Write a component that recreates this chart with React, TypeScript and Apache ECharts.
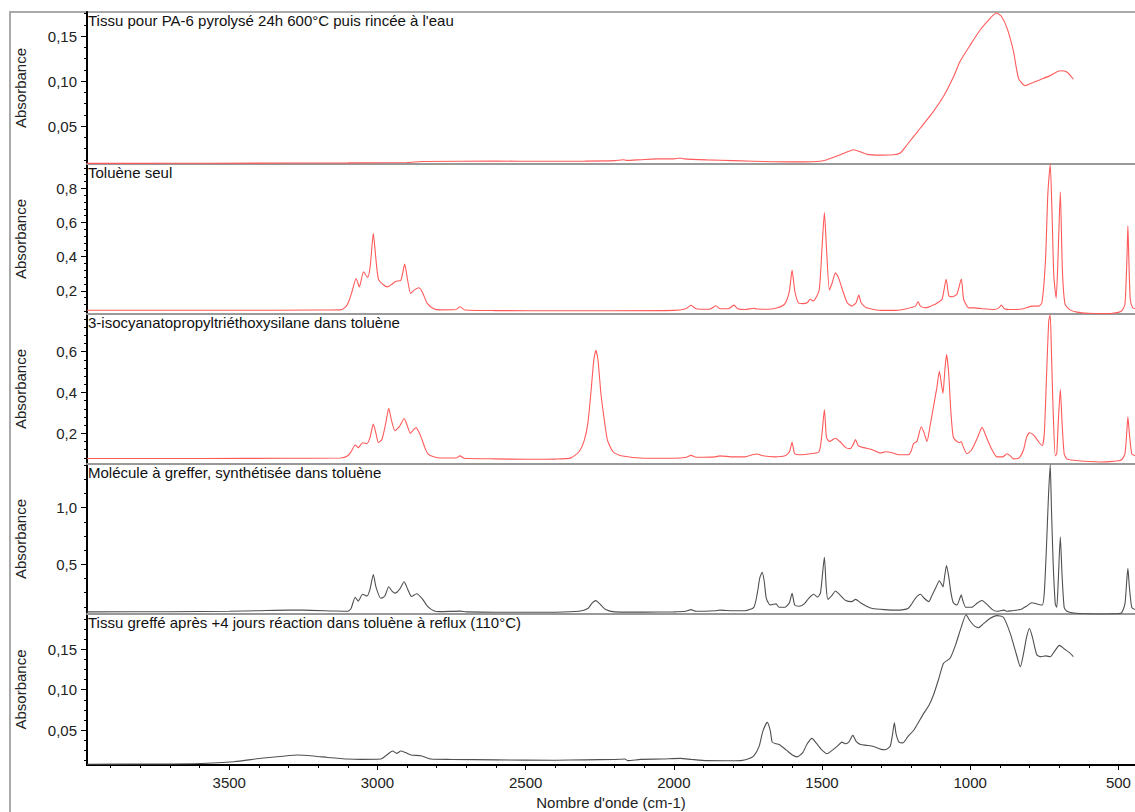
import React, { useEffect, useRef } from "react";
import * as echarts from "echarts";

// ---------- DATA (wavenumber cm-1, absorbance) ----------
const X_MIN = 444;
const X_MAX = 3980;
const X_MAJOR_TICKS = [500, 1000, 1500, 2000, 2500, 3000, 3500];
const X_MINOR_TICKS = [500, 600, 700, 800, 900, 1000, 1100, 1200, 1300, 1400, 1500, 1600, 1700, 1800, 1900, 2000, 2100, 2200, 2300, 2400, 2500, 2600, 2700, 2800, 2900, 3000, 3100, 3200, 3300, 3400, 3500, 3600, 3700, 3800, 3900];

const TITLES = [
  "Tissu pour PA-6 pyrolysé 24h 600°C puis rincée à l'eau",
  "Toluène seul",
  "3-isocyanatopropyltriéthoxysilane dans toluène",
  "Molécule à greffer, synthétisée dans toluène",
  "Tissu greffé après +4 jours réaction dans toluène à reflux (110°C)",
];

const Y_RANGES = [
  [0.0078, 0.1767],
  [0.064, 0.942],
  [0.05, 0.784],
  [0.061, 1.386],
  [0.0066, 0.194],
];
const Y_MAJOR_TICKS = [
  [0.05, 0.1, 0.15],
  [0.2, 0.4, 0.6, 0.8],
  [0.2, 0.4, 0.6],
  [0.5, 1.0],
  [0.05, 0.1, 0.15],
];
const Y_MINOR_TICKS = [
  [0.0125, 0.025, 0.0375, 0.0625, 0.075, 0.0875, 0.1125, 0.125, 0.1375, 0.1625, 0.175],
  [0.08, 0.12, 0.16, 0.24, 0.28, 0.32, 0.36, 0.44, 0.48, 0.52, 0.56, 0.64, 0.68, 0.72, 0.76, 0.84, 0.88, 0.92],
  [0.08, 0.12, 0.16, 0.24, 0.28, 0.32, 0.36, 0.44, 0.48, 0.52, 0.56, 0.64, 0.68, 0.72, 0.76],
  [0.125, 0.25, 0.375, 0.625, 0.75, 0.875, 1.125, 1.25, 1.375],
  [0.0125, 0.025, 0.0375, 0.0625, 0.075, 0.0875, 0.1125, 0.125, 0.1375, 0.1625, 0.175, 0.1875],
];
const Y_DECIMALS = [2, 1, 1, 1, 2];

const pyrolyse = [
  [3980, 0.0085], [3700, 0.0086], [3400, 0.0088], [3100, 0.009], [2900, 0.0095], [2850, 0.0105], [2600, 0.011], [2450, 0.0108],
  [2300, 0.011], [2200, 0.0115], [2170, 0.0125], [2160, 0.0118], [2112, 0.0126], [2060, 0.0135], [2000, 0.0135], [1980, 0.0145],
  [1965, 0.0135], [1888, 0.0124], [1800, 0.0115], [1663, 0.0103], [1560, 0.0102], [1517, 0.0105], [1483, 0.0126], [1438, 0.018],
  [1393, 0.0237], [1348, 0.0185], [1303, 0.0177], [1258, 0.018], [1236, 0.02], [1213, 0.0292], [1168, 0.0478], [1124, 0.0663],
  [1090, 0.083], [1056, 0.105], [1034, 0.122], [1000, 0.14], [966, 0.157], [932, 0.17], [912, 0.1756], [895, 0.172], [876, 0.159],
  [854, 0.133], [837, 0.103], [815, 0.0948], [790, 0.098], [764, 0.1015], [730, 0.106], [697, 0.1114], [674, 0.11], [652, 0.102],
];

const toluene = [
  [3980, 0.086], [3500, 0.086], [3200, 0.087], [3123, 0.088], [3105, 0.11], [3095, 0.146], [3085, 0.2], [3072, 0.272], [3061, 0.223],
  [3047, 0.311], [3033, 0.278], [3024, 0.35], [3014, 0.536], [3006, 0.4], [2997, 0.27], [2980, 0.235], [2966, 0.223], [2950, 0.24],
  [2938, 0.255], [2921, 0.262], [2908, 0.356], [2898, 0.26], [2888, 0.185], [2875, 0.205], [2860, 0.218], [2848, 0.19], [2832, 0.126],
  [2810, 0.095], [2790, 0.088], [2735, 0.09], [2721, 0.106], [2705, 0.087], [2600, 0.084], [2400, 0.083], [2200, 0.083], [2000, 0.085],
  [1960, 0.095], [1942, 0.115], [1925, 0.095], [1880, 0.092], [1858, 0.112], [1845, 0.095], [1815, 0.095], [1797, 0.116], [1785, 0.095],
  [1760, 0.09], [1730, 0.098], [1720, 0.093], [1680, 0.092], [1650, 0.1], [1625, 0.125], [1610, 0.2], [1601, 0.321], [1592, 0.2],
  [1580, 0.13], [1565, 0.125], [1550, 0.13], [1540, 0.15], [1530, 0.14], [1510, 0.2], [1500, 0.45], [1492, 0.658], [1485, 0.45],
  [1475, 0.204], [1465, 0.25], [1455, 0.305], [1445, 0.28], [1430, 0.2], [1415, 0.13], [1400, 0.11], [1385, 0.13], [1376, 0.175],
  [1368, 0.13], [1350, 0.1], [1300, 0.085], [1250, 0.085], [1215, 0.095], [1185, 0.11], [1176, 0.136], [1168, 0.11], [1150, 0.1],
  [1120, 0.12], [1110, 0.13], [1095, 0.15], [1081, 0.267], [1072, 0.17], [1060, 0.165], [1045, 0.18], [1030, 0.269], [1022, 0.15],
  [1005, 0.1], [985, 0.1], [960, 0.095], [920, 0.09], [903, 0.1], [895, 0.116], [885, 0.095], [860, 0.09], [820, 0.095], [790, 0.11],
  [770, 0.11], [758, 0.13], [746, 0.38], [738, 0.77], [730, 0.94], [724, 0.66], [718, 0.29], [710, 0.156], [704, 0.38], [696, 0.779],
  [689, 0.32], [680, 0.12], [663, 0.088], [640, 0.075], [600, 0.068], [560, 0.066], [520, 0.068], [490, 0.08], [478, 0.12],
  [471, 0.4], [468, 0.58], [465, 0.4], [460, 0.15], [452, 0.1], [444, 0.095],
];

const isocyanate = [
  [3980, 0.077], [3600, 0.077], [3300, 0.078], [3123, 0.079], [3100, 0.09], [3089, 0.11], [3075, 0.143], [3065, 0.13], [3050, 0.154],
  [3035, 0.15], [3025, 0.18], [3014, 0.245], [3005, 0.2], [2997, 0.155], [2985, 0.17], [2972, 0.25], [2962, 0.322], [2952, 0.26],
  [2941, 0.213], [2925, 0.235], [2910, 0.273], [2900, 0.24], [2889, 0.2], [2880, 0.215], [2870, 0.228], [2855, 0.19], [2840, 0.13],
  [2830, 0.1], [2810, 0.085], [2785, 0.079], [2735, 0.079], [2721, 0.09], [2708, 0.078], [2600, 0.075], [2500, 0.073], [2400, 0.074],
  [2347, 0.08], [2320, 0.11], [2302, 0.167], [2290, 0.25], [2280, 0.395], [2270, 0.56], [2263, 0.606], [2256, 0.56], [2246, 0.395],
  [2235, 0.27], [2224, 0.167], [2205, 0.11], [2178, 0.09], [2100, 0.078], [2000, 0.078], [1960, 0.082], [1942, 0.092], [1925, 0.083],
  [1860, 0.085], [1845, 0.09], [1800, 0.085], [1760, 0.085], [1735, 0.095], [1719, 0.099], [1700, 0.09], [1660, 0.085], [1625, 0.09],
  [1610, 0.11], [1601, 0.156], [1592, 0.1], [1570, 0.095], [1540, 0.1], [1510, 0.11], [1500, 0.2], [1492, 0.317], [1485, 0.18],
  [1475, 0.16], [1455, 0.176], [1440, 0.16], [1420, 0.13], [1405, 0.125], [1395, 0.145], [1387, 0.17], [1378, 0.14], [1360, 0.13],
  [1330, 0.12], [1303, 0.104], [1285, 0.11], [1264, 0.105], [1240, 0.095], [1210, 0.095], [1200, 0.11], [1191, 0.15], [1180, 0.16],
  [1165, 0.232], [1155, 0.2], [1146, 0.16], [1135, 0.24], [1124, 0.33], [1113, 0.42], [1104, 0.504], [1098, 0.45], [1092, 0.395],
  [1086, 0.5], [1080, 0.585], [1073, 0.5], [1065, 0.3], [1057, 0.18], [1045, 0.16], [1035, 0.155], [1030, 0.16], [1025, 0.14],
  [1011, 0.1], [995, 0.12], [975, 0.18], [960, 0.229], [945, 0.18], [930, 0.13], [910, 0.085], [890, 0.085], [876, 0.1], [865, 0.09],
  [853, 0.075], [835, 0.08], [820, 0.12], [810, 0.18], [800, 0.203], [785, 0.19], [770, 0.16], [757, 0.14], [750, 0.2], [742, 0.5],
  [735, 0.75], [730, 0.78], [726, 0.6], [720, 0.3], [713, 0.09], [708, 0.1], [703, 0.25], [696, 0.415], [690, 0.25], [683, 0.1],
  [674, 0.075], [650, 0.068], [600, 0.062], [560, 0.06], [520, 0.063], [490, 0.07], [478, 0.1], [472, 0.2], [468, 0.281], [463, 0.2],
  [455, 0.1], [444, 0.09],
];

const molecule = [
  [3980, 0.08], [3700, 0.081], [3500, 0.085], [3400, 0.09], [3300, 0.095], [3250, 0.095], [3150, 0.088], [3100, 0.085], [3089, 0.11],
  [3075, 0.209], [3065, 0.175], [3050, 0.235], [3035, 0.22], [3025, 0.28], [3014, 0.41], [3005, 0.3], [2989, 0.2], [2975, 0.22],
  [2962, 0.302], [2950, 0.26], [2940, 0.245], [2925, 0.28], [2910, 0.346], [2898, 0.28], [2885, 0.215], [2868, 0.24], [2850, 0.2],
  [2830, 0.126], [2810, 0.09], [2790, 0.082], [2721, 0.086], [2700, 0.08], [2600, 0.076], [2400, 0.077], [2320, 0.085], [2290, 0.11],
  [2275, 0.16], [2263, 0.179], [2250, 0.15], [2230, 0.1], [2200, 0.08], [2100, 0.078], [2000, 0.08], [1960, 0.085], [1942, 0.1],
  [1925, 0.085], [1860, 0.09], [1845, 0.095], [1800, 0.09], [1760, 0.09], [1730, 0.12], [1718, 0.25], [1710, 0.38], [1702, 0.43],
  [1695, 0.35], [1688, 0.2], [1675, 0.14], [1663, 0.147], [1655, 0.15], [1645, 0.12], [1625, 0.12], [1610, 0.16], [1601, 0.244],
  [1592, 0.14], [1575, 0.13], [1560, 0.15], [1545, 0.2], [1528, 0.235], [1515, 0.21], [1505, 0.25], [1492, 0.562], [1486, 0.3],
  [1480, 0.19], [1465, 0.23], [1455, 0.264], [1440, 0.23], [1420, 0.18], [1400, 0.17], [1387, 0.19], [1370, 0.16], [1350, 0.13],
  [1330, 0.11], [1290, 0.1], [1250, 0.095], [1225, 0.1], [1210, 0.11], [1200, 0.14], [1185, 0.2], [1168, 0.235], [1155, 0.2],
  [1140, 0.17], [1130, 0.22], [1115, 0.3], [1104, 0.355], [1098, 0.33], [1092, 0.3], [1086, 0.4], [1080, 0.49], [1073, 0.4],
  [1065, 0.25], [1057, 0.16], [1045, 0.14], [1035, 0.2], [1030, 0.23], [1025, 0.18], [1015, 0.12], [995, 0.12], [975, 0.16],
  [960, 0.18], [945, 0.15], [925, 0.1], [910, 0.085], [886, 0.095], [875, 0.085], [860, 0.09], [830, 0.1], [810, 0.13], [792, 0.16],
  [775, 0.15], [757, 0.14], [750, 0.25], [742, 0.7], [736, 1.1], [730, 1.38], [726, 1.0], [720, 0.5], [713, 0.15], [708, 0.12],
  [703, 0.35], [696, 0.744], [690, 0.4], [683, 0.12], [674, 0.085], [650, 0.07], [600, 0.062], [560, 0.06], [520, 0.062], [490, 0.07],
  [478, 0.15], [472, 0.35], [468, 0.465], [463, 0.3], [455, 0.12], [444, 0.1],
];

const greffe = [
  [3980, 0.0075], [3787, 0.0078], [3595, 0.0085], [3484, 0.0107], [3393, 0.0149], [3320, 0.0175], [3269, 0.019], [3210, 0.0175],
  [3168, 0.016], [3100, 0.014], [3056, 0.0136], [2989, 0.014], [2965, 0.02], [2949, 0.024], [2935, 0.021], [2921, 0.024], [2905, 0.022],
  [2887, 0.019], [2853, 0.018], [2820, 0.014], [2750, 0.0135], [2600, 0.013], [2400, 0.0125], [2300, 0.013], [2200, 0.0135], [2165, 0.014],
  [2155, 0.012], [2112, 0.0136], [2040, 0.014], [1978, 0.0148], [1940, 0.0135], [1888, 0.012], [1800, 0.0118], [1775, 0.012],
  [1750, 0.014], [1730, 0.018], [1712, 0.03], [1700, 0.048], [1685, 0.0595], [1675, 0.05], [1668, 0.035], [1655, 0.033], [1645, 0.032],
  [1620, 0.025], [1600, 0.019], [1584, 0.0167], [1565, 0.022], [1550, 0.033], [1534, 0.0397], [1520, 0.034], [1500, 0.025],
  [1483, 0.0206], [1465, 0.025], [1448, 0.03], [1433, 0.035], [1420, 0.033], [1410, 0.035], [1396, 0.0434], [1385, 0.036], [1370, 0.032],
  [1350, 0.031], [1326, 0.0296], [1300, 0.026], [1287, 0.0255], [1270, 0.03], [1262, 0.045], [1256, 0.059], [1250, 0.045], [1240, 0.035],
  [1227, 0.034], [1210, 0.042], [1190, 0.05], [1157, 0.0707], [1140, 0.08], [1124, 0.0934], [1105, 0.115], [1090, 0.133], [1068, 0.139],
  [1050, 0.155], [1030, 0.178], [1014, 0.193], [1000, 0.185], [985, 0.179], [972, 0.177], [955, 0.182], [935, 0.188], [910, 0.192],
  [888, 0.19], [865, 0.17], [845, 0.145], [831, 0.1285], [820, 0.145], [810, 0.165], [800, 0.176], [790, 0.165], [775, 0.143],
  [760, 0.141], [745, 0.142], [730, 0.141], [715, 0.148], [699, 0.155], [680, 0.15], [665, 0.146], [652, 0.141],
];

const SPECTRA = [pyrolyse, toluene, isocyanate, molecule, greffe];
const LINE_COLORS = ["#ff5a5a", "#ff5a5a", "#ff5a5a", "#505050", "#505050"];

// ---------- LAYOUT ----------
const PANEL_TOPS = [12, 164, 314, 464, 614];
const PANEL_HEIGHTS = [152, 150, 150, 150, 151];
const FONT = "'Liberation Sans', Arial, Helvetica, sans-serif";
const FS = 15;

function buildOption() {
  const n = SPECTRA.length;
  const grid: any[] = [];
  const xAxis: any[] = [];
  const yAxis: any[] = [];
  const series: any[] = [];
  const title: any[] = [];

  // main grids 0..n-1
  for (let i = 0; i < n; i++) {
    const last = i === n - 1;
    grid.push({ left: 87, width: 1048, top: PANEL_TOPS[i], height: PANEL_HEIGHTS[i] });
    xAxis.push({
      type: "value",
      gridIndex: i,
      position: "bottom",
      min: X_MIN,
      max: X_MAX,
      inverse: true,
      axisLine: { show: true, onZero: false, lineStyle: { color: last ? "#000" : "#999", width: 2 } },
      axisTick: { show: last, customValues: X_MAJOR_TICKS, length: 5, lineStyle: { color: "#000" } },
      axisLabel: {
        show: last,
        customValues: X_MAJOR_TICKS,
        formatter: (v: number) => String(v),
        fontSize: FS,
        color: "#222",
        fontFamily: FONT,
        margin: 10,
      },
      splitLine: { show: false },
      name: last ? "Nombre d'onde (cm-1)" : "",
      nameLocation: "middle",
      nameGap: 30,
      nameTextStyle: { fontSize: FS, color: "#222", fontFamily: FONT },
    });
    const dec = Y_DECIMALS[i];
    yAxis.push({
      type: "value",
      gridIndex: i,
      position: "left",
      min: Y_RANGES[i][0],
      max: Y_RANGES[i][1],
      axisLine: { show: true, onZero: false, lineStyle: { color: "#000", width: 2 } },
      axisTick: { show: true, customValues: Y_MAJOR_TICKS[i], length: 6, lineStyle: { color: "#000" } },
      axisLabel: {
        show: true,
        customValues: Y_MAJOR_TICKS[i],
        formatter: (v: number) => v.toFixed(dec).replace(".", ","),
        fontSize: FS,
        color: "#222",
        fontFamily: FONT,
        margin: 10,
      },
      splitLine: { show: false },
      name: "Absorbance",
      nameLocation: "middle",
      nameGap: 59,
      nameTextStyle: { fontSize: FS, color: "#222", fontFamily: FONT },
    });
    title.push({
      text: TITLES[i],
      left: 88,
      top: PANEL_TOPS[i] + 1,
      padding: 0,
      textStyle: { fontSize: FS, fontWeight: "normal", color: "#111", fontFamily: FONT },
    });
    series.push({
      type: "line",
      name: TITLES[i],
      xAxisIndex: i,
      yAxisIndex: i,
      data: SPECTRA[i],
      symbol: "none",
      showSymbol: false,
      smooth: 0.2,
      clip: true,
      silent: true,
      lineStyle: { color: LINE_COLORS[i], width: 1.1 },
    });
  }

  // overlay grids n..2n-1 (same rectangles) carrying the minor ticks
  for (let i = 0; i < n; i++) {
    const last = i === n - 1;
    const g = n + i;
    grid.push({ left: 87, width: 1048, top: PANEL_TOPS[i], height: PANEL_HEIGHTS[i] });
    xAxis.push({
      type: "value",
      gridIndex: g,
      position: "bottom",
      min: X_MIN,
      max: X_MAX,
      inverse: true,
      axisLine: { show: false, onZero: false },
      axisTick: { show: last, customValues: X_MINOR_TICKS, length: 3, lineStyle: { color: "#000" } },
      axisLabel: { show: false },
      splitLine: { show: false },
    });
    yAxis.push({
      type: "value",
      gridIndex: g,
      position: "left",
      min: Y_RANGES[i][0],
      max: Y_RANGES[i][1],
      axisLine: { show: false, onZero: false },
      axisTick: { show: true, customValues: Y_MINOR_TICKS[i], length: 3, lineStyle: { color: "#000" } },
      axisLabel: { show: false },
      splitLine: { show: false },
    });
  }

  return {
    animation: false,
    backgroundColor: "#fff",
    textStyle: { fontFamily: FONT },
    title,
    grid,
    xAxis,
    yAxis,
    series,
    graphic: [
      {
        type: "rect",
        z: -1,
        silent: true,
        shape: { x: 10, y: 12, width: 1200, height: 900 },
        style: { fill: "none", stroke: "#aaa", lineWidth: 2 },
      },
    ],
  };
}

export default function App() {
  const ref = useRef<HTMLDivElement>(null);
  useEffect(() => {
    if (!ref.current) return;
    const chart = echarts.init(ref.current, undefined, { renderer: "svg" });
    chart.setOption(buildOption() as any);
    return () => chart.dispose();
  }, []);
  return (
    <div
      ref={ref}
      style={{ position: "absolute", left: 0, top: 0, width: 1135, height: 812, background: "#fff" }}
    />
  );
}
